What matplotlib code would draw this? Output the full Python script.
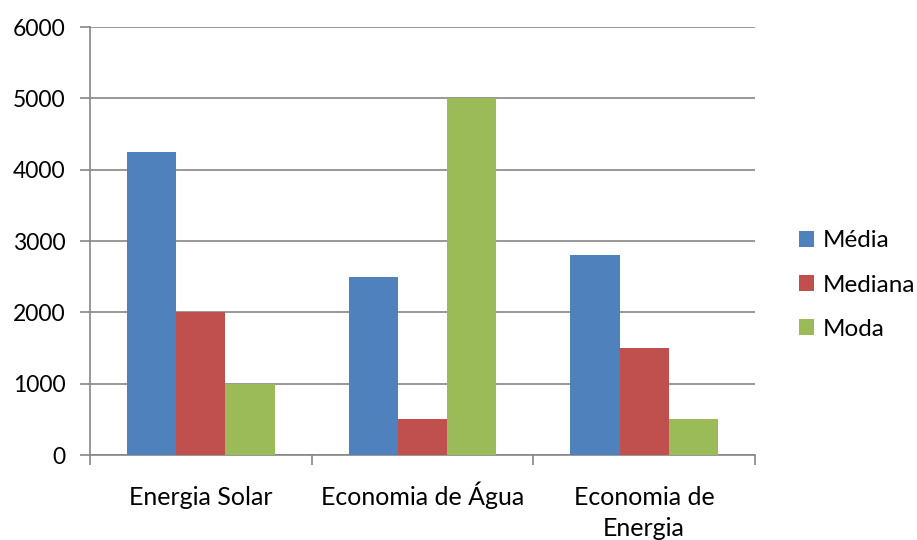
import matplotlib
matplotlib.use("Agg")
import matplotlib.pyplot as plt
import matplotlib.transforms as mtransforms
import numpy as np

categories = ["Energia Solar", "Economia de Água", "Economia de\nEnergia"]
series_names = ["Média", "Mediana", "Moda"]
media = [4250, 2500, 2800]
mediana = [2000, 500, 1500]
moda = [1000, 5000, 500]
colors = ["#4F81BD", "#C0504D", "#9BBB59"]
yticks = [0, 1000, 2000, 3000, 4000, 5000, 6000]

plt.rcParams['font.family'] = ['Lato', 'DejaVu Sans']
FS_Y = 16.5
FS_X = 18
FS_L = 17.5

fig = plt.figure(figsize=(9.17, 5.40), dpi=100)
ax = fig.add_axes([90/917, 85/540, 665/917, 428/540])

x = np.arange(len(categories))
w = 0.222
for i, (vals, name, c) in enumerate(zip([media, mediana, moda], series_names, colors)):
    ax.bar(x + (i - 1) * w, vals, width=w, color=c, label=name, zorder=3)

ax.set_xlim(-0.5, len(categories) - 0.5)
ax.set_ylim(0, 6000)
ax.set_yticks(yticks)
ax.set_yticklabels([str(v) for v in yticks], fontsize=FS_Y)
ax.yaxis.grid(True, color="#868686", linewidth=1.2, zorder=0)
ax.set_axisbelow(True)

# category labels: each line on its own baseline, top lines aligned
ax.set_xticks(x)
ax.set_xticklabels([])
ax.tick_params(axis='x', length=0)
trans = mtransforms.blended_transform_factory(ax.transData, ax.transAxes)
line_step = 31 / 428
for xi, lab in zip(x, categories):
    for k, line in enumerate(lab.split("\n")):
        ax.text(xi, -0.117 - k * line_step, line, transform=trans,
                ha='center', va='baseline', fontsize=FS_X, clip_on=False)

ax.set_xticks(np.arange(-0.5, len(categories), 1.0), minor=True)
ax.tick_params(axis='x', which='minor', length=7, color="#868686", width=1.2, direction='out')
ax.tick_params(axis='y', length=7, color="#868686", width=1.2, direction='out', pad=10.5)

for s in ["top", "right"]:
    ax.spines[s].set_visible(False)
for s in ["left", "bottom"]:
    ax.spines[s].set_color("#868686")
    ax.spines[s].set_linewidth(1.2)

leg = ax.legend(loc="center left", bbox_to_anchor=(1.033, 0.397), frameon=False,
                fontsize=FS_L, handlelength=0.62, handleheight=0.62, handletextpad=0.35,
                labelspacing=0.96)

fig.savefig("out.png", dpi=100)
